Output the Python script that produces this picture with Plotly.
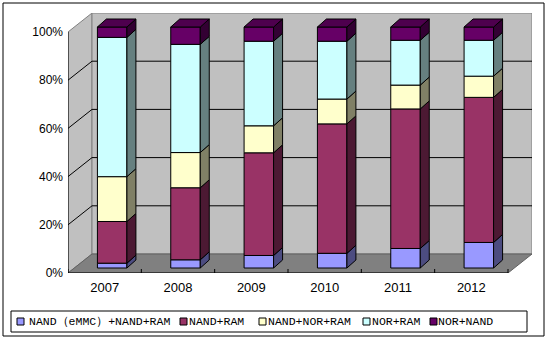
import plotly.graph_objects as go

# ---------------- data ----------------
years = ["2007", "2008", "2009", "2010", "2011", "2012"]
series_names = ["NAND（eMMC）+NAND+RAM", "NAND+RAM", "NAND+NOR+RAM", "NOR+RAM", "NOR+NAND"]
nand_emmc_nand_ram = [2.0, 3.4, 5.2, 6.1, 8.1, 10.6]
nand_ram = [17.3, 29.9, 42.6, 53.7, 57.9, 60.2]
nand_nor_ram = [18.6, 14.6, 11.2, 10.3, 9.9, 8.8]
nor_ram = [57.8, 44.9, 35.1, 24.0, 18.6, 14.9]
nor_nand = [4.3, 7.2, 5.9, 5.9, 5.5, 5.5]
y_ticks = [0, 20, 40, 60, 80, 100]
y_ticklabels = ["0%", "20%", "40%", "60%", "80%", "100%"]

series_values = [nand_emmc_nand_ram, nand_ram, nand_nor_ram, nor_ram, nor_nand]
front_colors = ["#9999FF", "#993366", "#FFFFCC", "#CCFFFF", "#660066"]
side_colors = ["#4C4C80", "#4C1933", "#808066", "#668080", "#330033"]
top_color = "#4E004E"

# ---------------- geometry (pixel-based styling) ----------------
W, H = 547, 339
ML, MR, MT, MB = 68, 15, 13, 66
plot_w = W - ML - MR
plot_h = H - MT - MB
n = len(years)
PX_Y = 2.41
DY = 19 / PX_Y
PX_X = plot_w / (n + 24 / 73.3)
DX = 24 / PX_X
FX, FY = 7.5 / PX_X, 5 / PX_Y      # bar front face offset (depth)
BX, BY = 9 / PX_X, 8 / PX_Y        # bar depth
BW = 29.5 / PX_X                   # bar width

def pxx(px):
    return (px - ML) / plot_w

def pxy(py):
    return (H - MB - py) / plot_h

def path(points):
    return "M " + " L ".join(f"{x},{y}" for x, y in points) + " Z"

WALL = "#C0C0C0"
FLOOR = "#808080"
EDGE = "#808080"

shapes = []
# outer chart border
shapes.append(dict(type="rect", xref="paper", yref="paper", x0=pxx(3), x1=pxx(544),
                   y0=pxy(336), y1=pxy(3), line=dict(color="black", width=1), layer="below"))
# left wall
shapes.append(dict(type="path", xref="x", yref="y",
                   path=path([(0, 0), (DX, DY), (DX, 100 + DY), (0, 100)]),
                   fillcolor=WALL, line=dict(color=EDGE, width=1), layer="below"))
# back wall
shapes.append(dict(type="rect", xref="x", yref="y", x0=DX, x1=n + DX, y0=DY, y1=100 + DY,
                   fillcolor=WALL, line=dict(color=EDGE, width=1), layer="below"))
# floor
shapes.append(dict(type="path", xref="x", yref="y",
                   path=path([(0, 0), (n, 0), (n + DX, DY), (DX, DY)]),
                   fillcolor=FLOOR, line=dict(color="#606060", width=1), layer="below"))
# gridlines
for v in y_ticks[1:-1]:
    shapes.append(dict(type="line", xref="x", yref="y", x0=DX, x1=n + DX, y0=v + DY, y1=v + DY,
                       line=dict(color="black", width=1), layer="below"))
    shapes.append(dict(type="line", xref="x", yref="y", x0=0, x1=DX, y0=v, y1=v + DY,
                       line=dict(color="black", width=1), layer="below"))
# front axes
shapes.append(dict(type="line", xref="x", yref="y", x0=0, x1=0, y0=0, y1=100,
                   line=dict(color="black", width=1)))
shapes.append(dict(type="line", xref="x", yref="y", x0=0, x1=n, y0=0, y1=0,
                   line=dict(color="black", width=1)))
for k in range(n + 1):
    shapes.append(dict(type="line", xref="x", yref="y", x0=k, x1=k, y0=0, y1=4 / PX_Y,
                       line=dict(color="black", width=1)))

fig = go.Figure()

# bars: front faces, side faces, top
centers = [i + 0.5 + FX for i in range(n)]
bottoms = [0.0] * n
for s, vals in enumerate(series_values):
    base = [FY + b for b in bottoms]
    fig.add_trace(go.Bar(x=centers, y=vals, base=base, width=BW,
                         marker=dict(color=front_colors[s], line=dict(color="black", width=1)),
                         showlegend=False, hoverinfo="skip"))
    sx, sy = [], []
    for i in range(n):
        xr = centers[i] + BW / 2
        b0 = base[i]
        b1 = base[i] + vals[i]
        sx += [xr, xr, xr + BX, xr + BX, xr, None]
        sy += [b0, b1, b1 + BY, b0 + BY, b0, None]
    fig.add_trace(go.Scatter(x=sx, y=sy, mode="lines", fill="toself",
                             fillcolor=side_colors[s], line=dict(color="black", width=1),
                             showlegend=False, hoverinfo="skip"))
    bottoms = [b + v for b, v in zip(bottoms, vals)]

tx, ty = [], []
for i in range(n):
    xl = centers[i] - BW / 2
    xr = centers[i] + BW / 2
    t = FY + bottoms[i]
    tx += [xl, xr, xr + BX, xl + BX, xl, None]
    ty += [t, t, t + BY, t + BY, t, None]
fig.add_trace(go.Scatter(x=tx, y=ty, mode="lines", fill="toself", fillcolor=top_color,
                         line=dict(color="black", width=1), showlegend=False, hoverinfo="skip"))

# manual legend
leg_font = dict(family="Liberation Mono", size=11.5, color="black")
shapes.append(dict(type="rect", xref="paper", yref="paper", x0=pxx(11), x1=pxx(527),
                   y0=pxy(332), y1=pxy(311), line=dict(color="black", width=1)))
sym_px = [17, 180, 259, 363, 430]
txt_px = [28, 188, 267, 371, 437]
annotations = []
ly = 321.5
for s in range(len(series_names)):
    shapes.append(dict(type="rect", xref="paper", yref="paper",
                       x0=pxx(sym_px[s]), x1=pxx(sym_px[s] + 7),
                       y0=pxy(ly + 3.5), y1=pxy(ly - 3.5),
                       fillcolor=front_colors[s], line=dict(color="black", width=1)))
    annotations.append(dict(xref="paper", yref="paper", x=pxx(txt_px[s]), y=pxy(ly),
                            xanchor="left", yanchor="middle", text=series_names[s],
                            showarrow=False, font=leg_font, borderpad=0))

fig.update_layout(
    width=W, height=H,
    margin=dict(l=ML, r=MR, t=MT, b=MB),
    paper_bgcolor="white", plot_bgcolor="white",
    barmode="overlay",
    shapes=shapes, annotations=annotations,
    showlegend=False,
    xaxis=dict(range=[0, n + DX], showgrid=False, zeroline=False, showline=False,
               tickmode="array", tickvals=[i + 0.5 for i in range(n)], ticktext=years,
               ticks="", ticklabelstandoff=5,
               tickfont=dict(family="Liberation Sans, Arial", size=13, color="black"),
               fixedrange=True),
    yaxis=dict(range=[0, 100 + DY], showgrid=False, zeroline=False, showline=False,
               tickmode="array", tickvals=y_ticks, ticktext=y_ticklabels,
               ticks="", ticklabelstandoff=4,
               tickfont=dict(family="Liberation Sans, Arial", size=12, color="black"),
               fixedrange=True),
)

fig.write_html("out.html")
